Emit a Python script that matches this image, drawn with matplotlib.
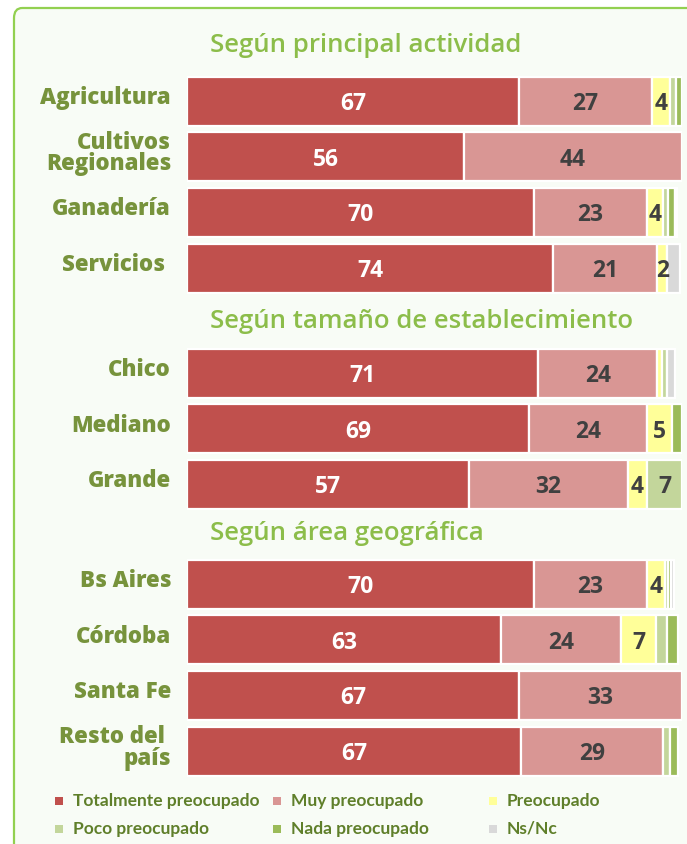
import matplotlib
matplotlib.use("Agg")
import matplotlib.pyplot as plt
from matplotlib.patches import FancyBboxPatch, Rectangle
import numpy as np

# ---------------- data ----------------
groups = ["Según principal actividad", "Según tamaño de establecimiento", "Según área geográfica"]
group_rows = [
    ["Agricultura", "Cultivos\nRegionales", "Ganadería", "Servicios "],
    ["Chico", "Mediano", "Grande"],
    ["Bs Aires", "Córdoba", "Santa Fe", "Resto del \npaís"],
]
series = ["Totalmente preocupado", "Muy preocupado", "Preocupado",
          "Poco preocupado", "Nada preocupado", "Ns/Nc"]
totalmente = [67, 56, 70, 74, 71, 69, 57, 70, 63.5, 67, 67.5]
muy        = [27, 44, 23, 21, 24, 24, 32, 23, 24.2, 33, 28.7]
preocupado = [3.6, 0, 3.2, 2, 1, 5, 4, 3.5, 7, 0, 0]
poco       = [1.2, 0, 1.0, 0, 1, 0, 7, 0.6, 2.2, 0, 1.3]
nada       = [1.2, 0, 1.3, 0, 0, 2, 0, 0.6, 2.3, 0, 1.7]
nsnc       = [0, 0, 0.5, 2.5, 1.5, 0, 0, 0.6, 0, 0, 0]
value_labels = [
    [67, 27, 4, None, None, None],
    [56, 44, None, None, None, None],
    [70, 23, 4, None, None, None],
    [74, 21, 2, None, None, None],
    [71, 24, None, None, None, None],
    [69, 24, 5, None, None, None],
    [57, 32, 4, 7, None, None],
    [70, 23, 4, None, None, None],
    [63, 24, 7, None, None, None],
    [67, 33, None, None, None, None],
    [67, 29, None, None, None, None],
]

# ---------------- style ----------------
colors = ["#c0504d", "#d99694", "#ffff99", "#c3d69b", "#9bbb59", "#d9d9d9"]
label_colors = ["white", "#404040", "#404040", "#404040", "#404040", "#404040"]
cat_color = "#77933c"
title_color = "#8cbd4a"
legend_color = "#5f7f2a"

W, H = 687, 844
fig = plt.figure(figsize=(W / 100, H / 100), dpi=100)
fig.patch.set_facecolor("white")

# background panel
bg = FancyBboxPatch((14 / W, -0.05), 1.0, 1.05 - 8 / H,
                    boxstyle="round,pad=0,rounding_size=0.012",
                    transform=fig.transFigure, facecolor="#f8fcf6",
                    edgecolor="#92d050", linewidth=1.6, zorder=-5)
fig.patches.append(bg)

# axes in pixel-like y units
x0, x1 = 187, 682
ax = fig.add_axes([x0 / W, 0, (x1 - x0) / W, 1], zorder=2)
ax.set_xlim(0, 100)
ax.set_ylim(H, 0)
ax.axis("off")
ax.patch.set_alpha(0)

group_start = [101, 373, 584]
title_y = [46, 321, 534]
row_step = 55.7
bar_h = 49

data = np.array([totalmente, muy, preocupado, poco, nada, nsnc])

idx = 0
for g, (gname, rows) in enumerate(zip(groups, group_rows)):
    fig.text(210 / W, 1 - title_y[g] / H, gname, ha="left", va="center",
             fontsize=18.5, color=title_color, family="Open Sans",
             fontweight="semibold")
    for r, name in enumerate(rows):
        y = group_start[g] + r * row_step
        left = 0
        for s in range(len(series)):
            v = data[s, idx]
            if v > 0:
                ax.barh(y, v, left=left, height=bar_h, color=colors[s],
                        edgecolor="white", linewidth=1.6)
                lab = value_labels[idx][s]
                if lab is not None:
                    ax.text(left + v / 2, y + 3, str(lab), ha="center",
                            va="center", fontsize=16.5, fontweight="bold",
                            color=label_colors[s], family="Open Sans")
            left += v
        fig.text(171 / W, 1 - (y - 3) / H, name, ha="right", va="center",
                 fontsize=16, fontweight="heavy", color=cat_color,
                 family="Open Sans", linespacing=0.85)
        idx += 1

# legend
leg_cols_x = [59, 277, 493]
leg_rows_y = [801, 829]
for i, name in enumerate(series):
    cx = leg_cols_x[i % 3]
    cy = leg_rows_y[i // 3]
    fig.patches.append(Rectangle(((cx - 4) / W, 1 - (cy + 4) / H), 8 / W, 8 / H,
                                 transform=fig.transFigure,
                                 facecolor=colors[i], edgecolor="none"))
    fig.text((cx + 14) / W, 1 - cy / H, name, ha="left", va="center",
             fontsize=12.5, fontweight="bold", color=legend_color,
             family="Lato")

fig.savefig("out.png", dpi=100)
